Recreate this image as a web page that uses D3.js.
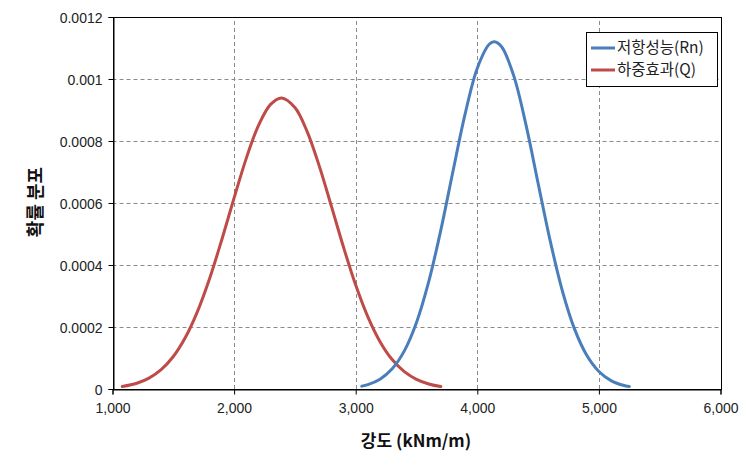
<!DOCTYPE html>
<html>
<head>
<meta charset="utf-8">
<script src="https://cdn.jsdelivr.net/npm/d3@7"></script>
<style>
  html, body { margin: 0; padding: 0; background: #fff; }
  svg { display: block; }
</style>
</head>
<body>
<svg id="chart" width="756" height="472"></svg>
<script>
// ---- data ----
const xTicks = [1000, 2000, 3000, 4000, 5000, 6000];
const xTickLabels = ["1,000", "2,000", "3,000", "4,000", "5,000", "6,000"];
const yTicks = [0, 0.0002, 0.0004, 0.0006, 0.0008, 0.001, 0.0012];
const yTickLabels = ["0", "0.0002", "0.0004", "0.0006", "0.0008", "0.001", "0.0012"];

const seriesNames = ["저항성능(Rn)", "하중효과(Q)"];

const rnX = [3050, 3100, 3200, 3300, 3400, 3500, 3600, 3700, 3800, 3900, 4000, 4100, 4140, 4200, 4300, 4400, 4500, 4600, 4700, 4800, 4900, 5000, 5100, 5200, 5250];
const rnY = [0.0000093, 0.0000142, 0.0000317, 0.000065, 0.0001229, 0.0002145, 0.0003453, 0.0005127, 0.0007025, 0.0008877, 0.0010349, 0.0011128, 0.00112, 0.0011039, 0.0010101, 0.0008527, 0.0006638, 0.0004769, 0.000316, 0.0001931, 0.0001089, 0.0000566, 0.0000272, 0.000012, 0.0000078];

const qX = [1080, 1200, 1300, 1400, 1500, 1600, 1700, 1800, 1900, 2000, 2100, 2200, 2300, 2390, 2500, 2600, 2700, 2800, 2900, 3000, 3100, 3200, 3300, 3400, 3500, 3600, 3700];
const qY = [0.0000081, 0.0000186, 0.000035, 0.0000623, 0.0001048, 0.0001668, 0.0002514, 0.0003582, 0.0004831, 0.0006164, 0.000744, 0.0008497, 0.0009181, 0.000939, 0.0009081, 0.0008311, 0.0007197, 0.0005897, 0.0004571, 0.0003352, 0.0002326, 0.0001528, 0.0000949, 0.0000558, 0.000031, 0.0000163, 0.0000081];

const colors = ["#4A7EBB", "#BE4B48"];

// ---- chart ----
const svg = d3.select("#chart");
const x = d3.scaleLinear().domain([1000, 6000]).range([112.5, 720.5]);
const y = d3.scaleLinear().domain([0, 0.0012]).range([389, 17]);

svg.append("rect").attr("width", 756).attr("height", 472).attr("fill", "#fff");

// gridlines
const grid = svg.append("g");
grid.selectAll("line.h").data(yTicks.slice(1, -1)).join("line")
  .attr("x1", x(1000)).attr("x2", x(6000))
  .attr("y1", d => Math.round(y(d)) + 0.5).attr("y2", d => Math.round(y(d)) + 0.5)
  .attr("stroke", "#8a8a8a").attr("stroke-width", 1).attr("stroke-dasharray", "4,3");
grid.selectAll("line.v").data(xTicks.slice(1, -1)).join("line")
  .attr("y1", y(0)).attr("y2", y(0.0012))
  .attr("x1", d => Math.round(x(d)) + 0.5).attr("x2", d => Math.round(x(d)) + 0.5)
  .attr("stroke", "#8a8a8a").attr("stroke-width", 1).attr("stroke-dasharray", "4,3");

// plot border
svg.append("rect")
  .attr("x", Math.round(x(1000)) + 0.5).attr("y", Math.round(y(0.0012)) + 0.5)
  .attr("width", Math.round(x(6000)) - Math.round(x(1000)))
  .attr("height", Math.round(y(0)) - Math.round(y(0.0012)))
  .attr("fill", "none").attr("stroke", "#000").attr("stroke-width", 1);

// axes
const xAxis = d3.axisBottom(x).tickValues(xTicks).tickSize(5).tickPadding(6)
  .tickFormat((d, i) => xTickLabels[i]);
const yAxis = d3.axisLeft(y).tickValues(yTicks).tickSize(5).tickPadding(6)
  .tickFormat((d, i) => yTickLabels[i]);

const gx = svg.append("g").attr("transform", `translate(0,${Math.round(y(0)) + 0.5})`).call(xAxis);
const gy = svg.append("g").attr("transform", `translate(${Math.round(x(1000)) + 0.5},0)`).call(yAxis);
[gx, gy].forEach(g => {
  g.select(".domain").attr("stroke", "#000");
  g.selectAll(".tick line").attr("stroke", "#000");
  g.selectAll(".tick text").attr("fill", "#222")
    .style("font-family", "'Liberation Sans', Arial, sans-serif").style("font-size", "14px");
});
gy.selectAll(".tick text").attr("dy", "0.36em");
gx.selectAll(".tick text").attr("dy", "0.9em");

// lines
const line = d3.line().x(d => x(d[0])).y(d => y(d[1])).curve(d3.curveCatmullRom.alpha(0.5));
const seriesData = [
  d3.zip(rnX, rnY),
  d3.zip(qX, qY)
];
svg.append("path").datum(seriesData[1]).attr("d", line)
  .attr("fill", "none").attr("stroke", colors[1]).attr("stroke-width", 3).attr("stroke-linejoin", "round").attr("stroke-linecap", "round");
svg.append("path").datum(seriesData[0]).attr("d", line)
  .attr("fill", "none").attr("stroke", colors[0]).attr("stroke-width", 3).attr("stroke-linejoin", "round").attr("stroke-linecap", "round");

// legend
const lg = svg.append("g");
lg.append("rect").attr("x", 586.5).attr("y", 32.5).attr("width", 131).attr("height", 54)
  .attr("fill", "#fff").attr("stroke", "#000").attr("stroke-width", 1);
seriesNames.forEach((name, i) => {
  const ly = 48 + i * 22;
  lg.append("line").attr("x1", 591).attr("x2", 615).attr("y1", ly).attr("y2", ly)
    .attr("stroke", colors[i]).attr("stroke-width", 3);
  lg.append("text").attr("x", 617).attr("y", ly).attr("dy", "0.35em")
    .attr("fill", "#222")
    .style("font-family", "'Noto Sans CJK KR', sans-serif").style("font-size", "15.5px")
    .text(name);
});

// axis titles
svg.append("text").attr("x", 416).attr("y", 447).attr("text-anchor", "middle")
  .style("font-family", "'Noto Sans CJK KR', sans-serif").style("font-size", "17px").style("font-weight", "bold")
  .attr("fill", "#111").text("강도 (kNm/m)");
svg.append("text").attr("transform", "translate(42,202) rotate(-90)").attr("text-anchor", "middle")
  .style("font-family", "'Noto Sans CJK KR', sans-serif").style("font-size", "18px").style("font-weight", "bold")
  .attr("fill", "#111").text("확률 분포");
</script>
</body>
</html>
